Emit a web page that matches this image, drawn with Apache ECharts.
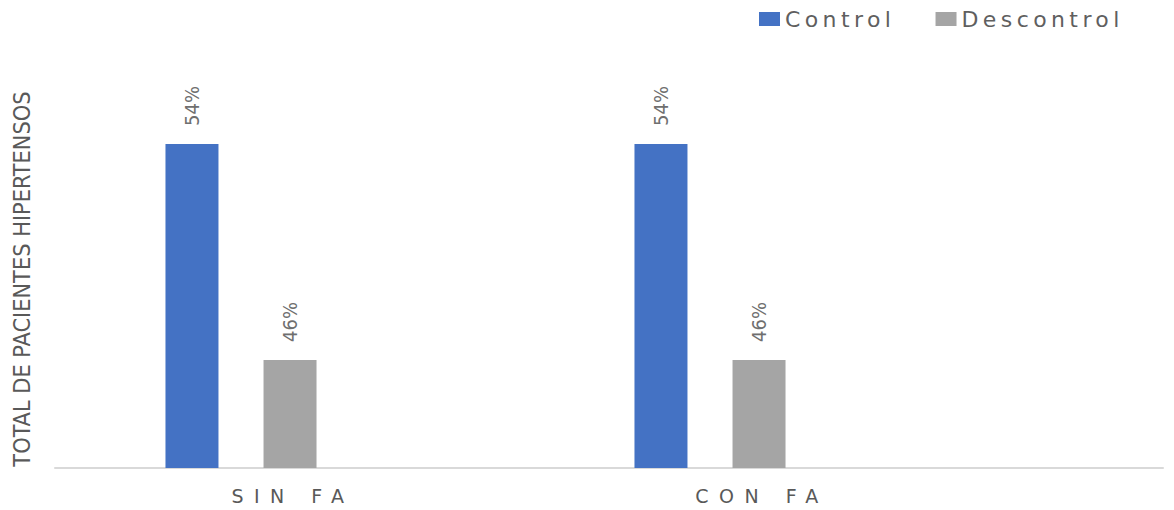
<!DOCTYPE html>
<html>
<head>
<meta charset="utf-8">
<script src="https://cdn.jsdelivr.net/npm/echarts@6/dist/echarts.min.js"></script>
<style>
html,body{margin:0;padding:0;background:#fff;}
#c{width:1174px;height:510px;}
#c text[style*="catFont"], #c text[font-family*="catFont"]{letter-spacing:10.5px;}
#c text[style*="legFont"], #c text[font-family*="legFont"]{letter-spacing:4.4px;}
</style>
</head>
<body>
<div id="c"></div>
<script>
const categories = ['SIN FA', 'CON FA'];
const seriesNames = ['Control', 'Descontrol'];
const controlValues = [54, 54];
const descontrolValues = [46, 46];
const yAxisTitle = 'TOTAL DE PACIENTES HIPERTENSOS';

const chart = echarts.init(document.getElementById('c'), null, {renderer: 'svg'});
const narrow = "'Liberation Sans Narrow', 'DejaVu Sans Condensed', 'Liberation Sans', sans-serif";
const labelCfg = {
  show: true, position: 'top', rotate: 90, align: 'left', verticalAlign: 'middle',
  distance: 18, color: '#6f6f6f', fontSize: 20, fontFamily: narrow,
  formatter: p => p.value + '%'
};
chart.setOption({
  animation: false,
  backgroundColor: '#ffffff',
  legend: {
    left: 754, top: 3, itemWidth: 21, itemHeight: 14, itemGap: 71,
    icon: 'rect',
    textStyle: {fontSize: 22, color: '#5f5f5f', fontFamily: "'DejaVu Sans', legFont, sans-serif"},
    data: seriesNames
  },
  grid: [
    {left: 6.5, right: 229.5, top: 90, bottom: 42, outerBoundsMode: 'none', containLabel: false},
    {left: 55, right: 11, top: 90, bottom: 42, outerBoundsMode: 'none', containLabel: false}
  ],
  xAxis: [
    {type: 'category', gridIndex: 0, data: categories,
     axisLine: {show: false}, axisTick: {show: false},
     axisLabel: {margin: 18, fontSize: 19, color: '#595959', padding: [0, 0, 0, 104],
                 fontFamily: "'DejaVu Sans', catFont, sans-serif"}},
    {type: 'value', gridIndex: 1, min: 0, max: 1,
     axisLine: {show: true, lineStyle: {color: '#d9d9d9', width: 2}},
     axisTick: {show: false}, axisLabel: {show: false}, splitLine: {show: false}}
  ],
  yAxis: [
    {type: 'value', gridIndex: 0, min: 42, max: 56, show: false},
    {type: 'value', gridIndex: 1, min: 0, max: 1,
     axisLine: {show: false}, axisTick: {show: false}, axisLabel: {show: false}, splitLine: {show: false},
     name: yAxisTitle, nameLocation: 'middle', nameRotate: 90, nameGap: 22,
     nameTextStyle: {fontSize: 23.3, color: '#595959', fontFamily: narrow}}
  ],
  series: [
    {name: seriesNames[0], type: 'bar', xAxisIndex: 0, yAxisIndex: 0, data: controlValues,
     barWidth: 53, barGap: '85%', itemStyle: {color: '#4472C4'}, label: labelCfg},
    {name: seriesNames[1], type: 'bar', xAxisIndex: 0, yAxisIndex: 0, data: descontrolValues,
     barWidth: 53, barGap: '85%', itemStyle: {color: '#A5A5A5'}, label: labelCfg}
  ]
});
</script>
</body>
</html>
